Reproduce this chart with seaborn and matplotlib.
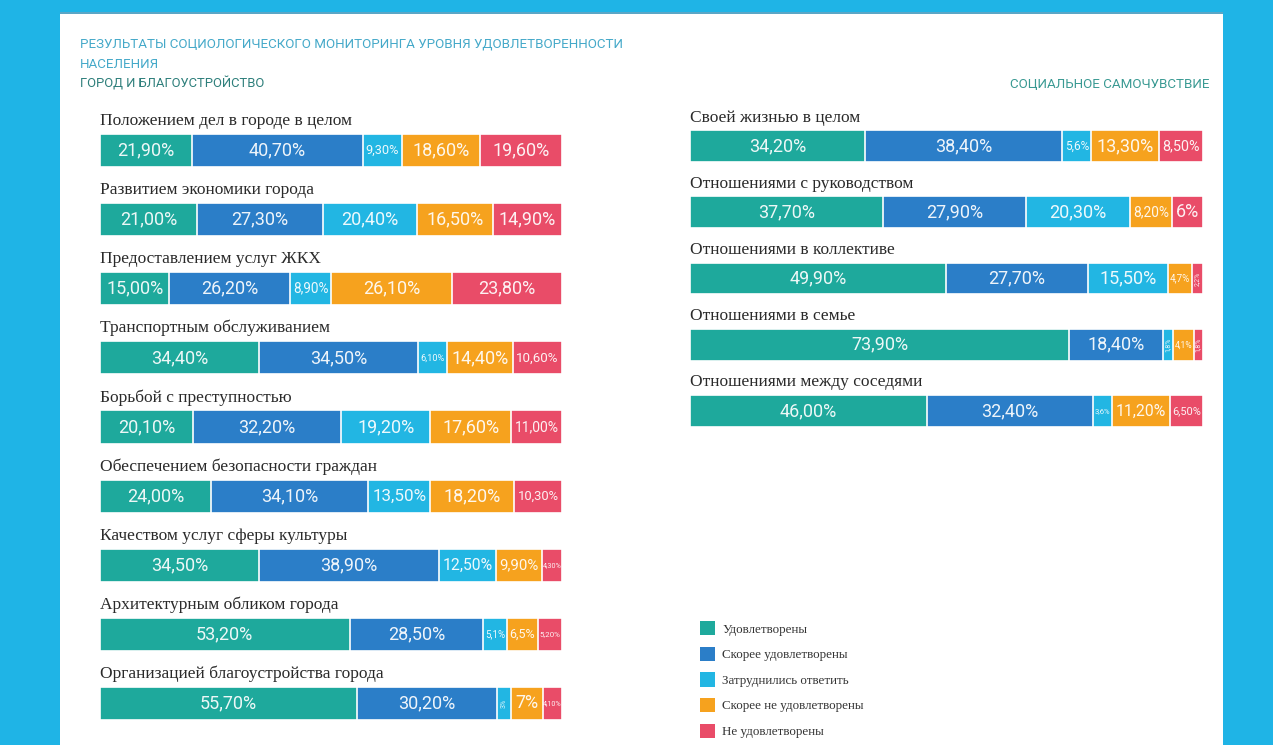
import numpy as np
import pandas as pd
import matplotlib
matplotlib.use("Agg")
import matplotlib.pyplot as plt
from matplotlib.patches import Rectangle, Patch
import seaborn as sns

# ---------------- data ----------------
series_names = ["Удовлетворены", "Скорее удовлетворены", "Затруднились ответить",
                "Скорее не удовлетворены", "Не удовлетворены"]
series_colors = ["#1ea99c", "#2b7ec8", "#22b6e3", "#f6a21e", "#e94c68"]

left_categories = [
    "Положением дел в городе в целом",
    "Развитием экономики города",
    "Предоставлением услуг ЖКХ",
    "Транспортным обслуживанием",
    "Борьбой с преступностью",
    "Обеспечением безопасности граждан",
    "Качеством услуг сферы культуры",
    "Архитектурным обликом города",
    "Организацией благоустройства города",
]
left_satisfied   = [21.9, 21.0, 15.0, 34.4, 20.1, 24.0, 34.5, 53.2, 55.7]
left_rather_sat  = [40.7, 27.3, 26.2, 34.5, 32.2, 34.1, 38.9, 28.5, 30.2]
left_hard        = [9.3, 20.4, 8.9, 6.1, 19.2, 13.5, 12.5, 5.1, 3.0]
left_rather_not  = [18.6, 16.5, 26.1, 14.4, 17.6, 18.2, 9.9, 6.5, 7.0]
left_not         = [19.6, 14.9, 23.8, 10.6, 11.0, 10.3, 4.3, 5.2, 4.1]
left_labels = [
    ["21,90%", "40,70%", "9,30%", "18,60%", "19,60%"],
    ["21,00%", "27,30%", "20,40%", "16,50%", "14,90%"],
    ["15,00%", "26,20%", "8,90%", "26,10%", "23,80%"],
    ["34,40%", "34,50%", "6,10%", "14,40%", "10,60%"],
    ["20,10%", "32,20%", "19,20%", "17,60%", "11,00%"],
    ["24,00%", "34,10%", "13,50%", "18,20%", "10,30%"],
    ["34,50%", "38,90%", "12,50%", "9,90%", "4,30%"],
    ["53,20%", "28,50%", "5,1%", "6,5%", "5,20%"],
    ["55,70%", "30,20%", "3%", "7%", "4,10%"],
]

right_categories = [
    "Своей жизнью в целом",
    "Отношениями с руководством",
    "Отношениями в коллективе",
    "Отношениями в семье",
    "Отношениями между соседями",
]
right_satisfied  = [34.2, 37.7, 49.9, 73.9, 46.0]
right_rather_sat = [38.4, 27.9, 27.7, 18.4, 32.4]
right_hard       = [5.6, 20.3, 15.5, 1.8, 3.6]
right_rather_not = [13.3, 8.2, 4.7, 4.1, 11.2]
right_not        = [8.5, 6.0, 2.2, 1.8, 6.5]
right_labels = [
    ["34,20%", "38,40%", "5,6%", "13,30%", "8,50%"],
    ["37,70%", "27,90%", "20,30%", "8,20%", "6%"],
    ["49,90%", "27,70%", "15,50%", "4,7%", "2,2%"],
    ["73,90%", "18,40%", "1,8%", "4,1%", "1,8%"],
    ["46,00%", "32,40%", "3,6%", "11,20%", "6,50%"],
]

title_line1 = "РЕЗУЛЬТАТЫ СОЦИОЛОГИЧЕСКОГО МОНИТОРИНГА УРОВНЯ УДОВЛЕТВОРЕННОСТИ"
title_line2 = "НАСЕЛЕНИЯ"
left_heading = "ГОРОД И БЛАГОУСТРОЙСТВО"
right_heading = "СОЦИАЛЬНОЕ САМОЧУВСТВИЕ"

# ---------------- style ----------------
sns.set_theme(style="white")
SANS = ["Roboto", "DejaVu Sans"]
SERIF = ["Liberation Serif", "DejaVu Serif"]
plt.rcParams["font.family"] = SANS

W, H = 1273, 745
fig = plt.figure(figsize=(W / 100, H / 100), dpi=100)
fig.patch.set_facecolor("#1fb4e6")
# white page panel
fig.add_artist(Rectangle((60 / W, 0), (1223 - 60) / W, (H - 13) / H,
                         transform=fig.transFigure, facecolor="white",
                         edgecolor="none", zorder=0))
fig.add_artist(Rectangle((60 / W, (H - 14) / H), (1223 - 60) / W, 2 / H,
                         transform=fig.transFigure, facecolor="#5aa6c6",
                         edgecolor="none", zorder=0))


def px_box(x0, y0, x1, y1):
    return [x0 / W, 1 - y1 / H, (x1 - x0) / W, (y1 - y0) / H]


def draw_panel(ax, cats, cols, labels, ax_px_width):
    vals = np.array(cols, dtype=float).T  # rows x series
    shares = vals / vals.sum(axis=1, keepdims=True) * 100
    cum = np.cumsum(shares, axis=1)
    df = pd.DataFrame({"category": cats})
    for k in range(5):
        df[f"c{k}"] = cum[:, k]
    for k in range(4, -1, -1):
        sns.barplot(data=df, x=f"c{k}", y="category", orient="h",
                    color=series_colors[k], saturation=1, width=0.48,
                    edgecolor="white", linewidth=1.2, errorbar=None, ax=ax)
    n = len(cats)
    ax.set_xlim(0, 100)
    ax.set_ylim(n - 0.5, -0.5)
    ax.set_axis_off()
    for i in range(n):
        ax.text(0, i - 0.31, cats[i], family=SERIF, fontsize=12.5,
                color="#2a2a2a", va="bottom", ha="left")
        start = 0.0
        for k in range(5):
            s = shares[i, k]
            lab = labels[i][k]
            seg_px = s / 100 * ax_px_width
            cx = start + s / 2
            start += s
            if seg_px < 14:
                ax.text(cx, i, lab, ha="center", va="center", rotation=90,
                        fontsize=5, color="white", alpha=0.9)
                continue
            fs = 0.92 * seg_px * 72 / (100 * 0.56 * len(lab))
            fs = max(5.2, min(13.0, fs))
            ax.text(cx, i, lab, ha="center", va="center", fontsize=fs,
                    color="white", alpha=0.92)


axL = fig.add_axes(px_box(100, 116, 562, 738))
draw_panel(axL, left_categories,
           [left_satisfied, left_rather_sat, left_hard, left_rather_not, left_not],
           left_labels, 462)

axR = fig.add_axes(px_box(690, 113, 1203, 444))
draw_panel(axR, right_categories,
           [right_satisfied, right_rather_sat, right_hard, right_rather_not, right_not],
           right_labels, 513)

# titles
fig.text(80 / W, 1 - 44 / H, title_line1, fontsize=9.6, color="#45a9c9",
         va="center", ha="left")
fig.text(80 / W, 1 - 64 / H, title_line2, fontsize=9.6, color="#45a9c9",
         va="center", ha="left")
fig.text(80 / W, 1 - 84 / H, left_heading, fontsize=9.4, color="#2e7f7b",
         va="center", ha="left")
fig.text(1210 / W, 1 - 84 / H, right_heading, fontsize=9.6, color="#3a9a93",
         va="center", ha="right")

# legend
handles = [Patch(facecolor=c, edgecolor="none") for c in series_colors]
leg = fig.legend(handles, series_names, loc="upper left",
                 bbox_to_anchor=(695 / W, 1 - 616 / H),
                 bbox_transform=fig.transFigure, frameon=False,
                 prop={"family": SERIF, "size": 9.4}, labelspacing=0.85,
                 handlelength=1.15, handleheight=1.3, handletextpad=0.55,
                 borderaxespad=0)
for t in leg.get_texts():
    t.set_color("#333333")

fig.savefig("out.png", dpi=100, facecolor=fig.get_facecolor())
